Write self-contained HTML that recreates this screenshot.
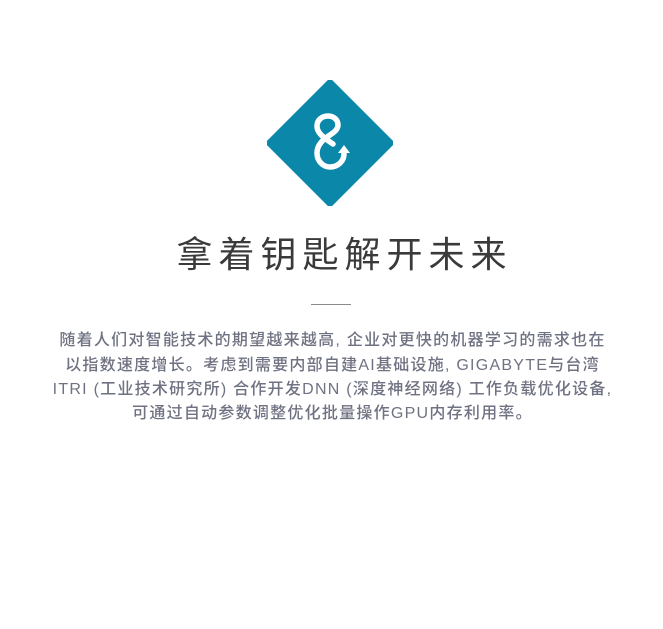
<!DOCTYPE html>
<html><head><meta charset="utf-8"><style>
html,body{margin:0;padding:0;background:#fff;}
body{width:663px;height:629px;position:relative;overflow:hidden;font-family:"Liberation Sans","Noto Sans CJK SC",sans-serif;}
.logo{position:absolute;left:267px;top:80px;width:126px;height:126px;}
.title{position:absolute;left:0;width:663px;top:232px;text-align:center;font-size:36px;line-height:46px;color:#3a3a3a;letter-spacing:6px;padding-left:26px;box-sizing:border-box;white-space:nowrap;}
.rule{position:absolute;left:311px;top:304px;width:40px;height:1px;background:#8a8a8a;}
.p{position:absolute;left:0;width:663px;text-align:center;font-size:16px;line-height:20px;color:#6f7282;letter-spacing:1.25px;padding-left:2px;box-sizing:border-box;white-space:nowrap;font-weight:500;}
</style></head><body>
<svg class="logo" viewBox="0 0 126 126">
<polygon points="63,0 126,63 63,126 0,63" fill="#0b87a9" stroke="#0b87a9" stroke-width="3" stroke-linejoin="round"/>
<path d="M66,64 C 54,56 50,52 50,46 C 50,40 55,36 61,36 C 67,36 71,40 71,45 C 71,50 66,53 60,57 C 53,62 50,67 50,73 C 50,81 56,87 63,87 C 71,87 77,81 77,74 L 77,71" fill="none" stroke="#fff" stroke-width="5.5" stroke-linecap="round"/>
<polygon points="71,73 77,65 83,73" fill="#fff"/>
</svg>
<div class="title">拿着钥匙解开未来</div>
<div class="rule"></div>
<div class="p" style="top:331px">随着人们对智能技术的期望越来越高, 企业对更快的机器学习的需求也在</div>
<div class="p" style="top:356px">以指数速度增长。考虑到需要内部自建AI基础设施, GIGABYTE与台湾</div>
<div class="p" style="top:380px">ITRI (工业技术研究所) 合作开发DNN (深度神经网络) 工作负载优化设备,</div>
<div class="p" style="top:404px">可通过自动参数调整优化批量操作GPU内存利用率。</div>
</body></html>
